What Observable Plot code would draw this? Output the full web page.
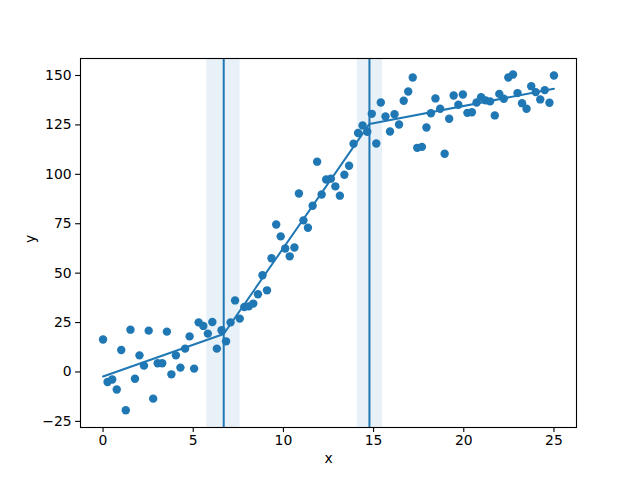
<!DOCTYPE html>
<html><head><meta charset="utf-8">
<script src="https://cdn.jsdelivr.net/npm/d3@7"></script>
<script src="https://cdn.jsdelivr.net/npm/@observablehq/plot@0.6"></script>
<style>body{margin:0;background:#fff}</style>
</head><body><div id="chart"></div>
<script>
const xs = [0, 0.25, 0.51, 0.76, 1.01, 1.26, 1.52, 1.77, 2.02, 2.27, 2.53, 2.78, 3.03, 3.28, 3.54, 3.79, 4.04, 4.29, 4.55, 4.80,
  5.05, 5.30, 5.56, 5.81, 6.06, 6.31, 6.57, 6.82, 7.07, 7.32, 7.58, 7.83, 8.08, 8.33, 8.59, 8.84, 9.09, 9.34, 9.60, 9.85,
  10.10, 10.35, 10.61, 10.86, 11.11, 11.36, 11.62, 11.87, 12.12, 12.37, 12.63, 12.88, 13.13, 13.38, 13.64, 13.89, 14.14, 14.39, 14.65, 14.90,
  15.15, 15.40, 15.66, 15.91, 16.16, 16.41, 16.67, 16.92, 17.17, 17.42, 17.68, 17.93, 18.18, 18.43, 18.69, 18.94, 19.19, 19.44, 19.70, 19.95,
  20.20, 20.45, 20.71, 20.96, 21.21, 21.46, 21.72, 21.97, 22.22, 22.47, 22.73, 22.98, 23.23, 23.48, 23.74, 23.99, 24.24, 24.49, 24.75, 25.00];
const ys = [16.4, -5.1, -3.8, -8.9, 11.1, -19.4, 21.4, -3.4, 8.4, 3.2, 20.9, -13.5, 4.4, 4.4, 20.4, -1.2, 8.4, 2.2, 11.8, 18.0,
  1.7, 25.1, 23.3, 19.4, 25.3, 11.8, 21.1, 15.5, 25.1, 36.2, 27.0, 32.9, 33.2, 34.6, 39.3, 48.9, 41.3, 57.5, 74.6, 68.6,
  62.5, 58.5, 63.0, 90.3, 76.7, 73.0, 84.1, 106.4, 89.8, 97.4, 97.8, 93.9, 89.2, 99.8, 104.3, 115.5, 120.9, 124.7, 121.5, 130.6,
  115.6, 136.3, 129.3, 121.7, 130.4, 125.2, 137.2, 141.9, 149.0, 113.4, 113.9, 123.7, 130.9, 138.4, 133.2, 110.4, 128.1, 139.9, 135.2, 140.4,
  131.1, 131.4, 136.3, 139.0, 137.4, 136.9, 129.8, 140.7, 138.2, 149.0, 150.5, 141.1, 136.0, 133.2, 144.6, 141.6, 137.9, 142.6, 136.2, 150.0];
const fitX = [0, 6.69, 14.77, 25];
const fitY = [-2.3, 19.2, 125.5, 143.3];
const breakX = [6.69, 14.77];
const bandLo = [5.75, 14.1];
const bandHi = [7.6, 15.5];
const xTicks = [0, 5, 10, 15, 20, 25];
const yTicks = [-25, 0, 25, 50, 75, 100, 125, 150];

const pts = xs.map((x, i) => ({x, y: ys[i]}));
const fit = fitX.map((x, i) => ({x, y: fitY[i]}));
const bands = bandLo.map((lo, i) => ({lo, hi: bandHi[i]}));
const blue = "#1f77b4";

const chart = Plot.plot({
  width: 640, height: 480,
  marginLeft: 80, marginRight: 64, marginTop: 58, marginBottom: 53,
  style: {fontFamily: "DejaVu Sans", fontSize: "13.9px", color: "#000", background: "#fff"},
  x: {domain: [-1.25, 26.25]},
  y: {domain: [-28.1, 158.6]},
  marks: [
    Plot.rect(bands, {x1: "lo", x2: "hi", fill: blue, fillOpacity: 0.1}),
    Plot.dot(pts, {x: "x", y: "y", r: 4.2, fill: blue, stroke: "none"}),
    Plot.line(fit, {x: "x", y: "y", stroke: blue, strokeWidth: 2}),
    Plot.ruleX(breakX, {stroke: blue, strokeWidth: 2}),
    Plot.frame({stroke: "#000", strokeWidth: 1.1}),
    Plot.axisX(xTicks, {tickSize: 4.9, tickPadding: 3, strokeWidth: 1.1, label: null, fontSize: 13.9}),
    Plot.axisY(yTicks, {tickSize: 4.9, tickPadding: 4, strokeWidth: 1.1, label: null, fontSize: 13.9}),
    Plot.text(["x"], {frameAnchor: "bottom", dy: 35, fontSize: 13.9}),
    Plot.text(["y"], {frameAnchor: "left", dx: -50, rotate: -90, fontSize: 13.9})
  ]
});
document.getElementById("chart").appendChild(chart);
</script>
</body></html>
